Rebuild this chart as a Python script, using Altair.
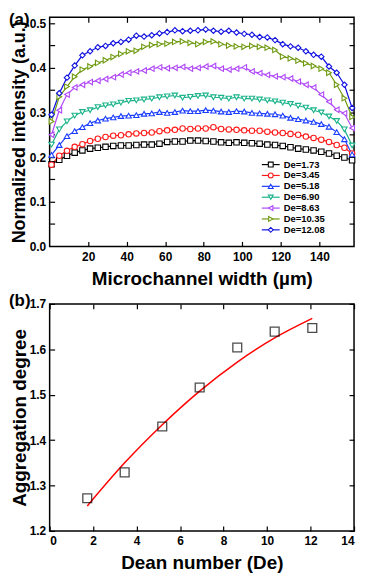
import altair as alt
import pandas as pd

LF = "Liberation Sans"

# ---------------- panel (a) data ----------------
x_um = [1, 5, 9, 13, 17, 21, 25, 29, 33, 37, 41, 45, 49, 53, 57, 61, 65, 69, 73, 77,
        81, 85, 89, 93, 97, 101, 105, 109, 113, 117, 121, 125, 129, 133, 137, 141, 145, 149, 153, 157]

names = ["De=1.73", "De=3.45", "De=5.18", "De=6.90", "De=8.63", "De=10.35", "De=12.08"]
colors = ["#000000", "#ff1a1a", "#1a3cff", "#1ab38a", "#b048f8", "#6f9a10", "#1010e0"]
shapes = ["square", "circle", "triangle-up", "triangle-down", "triangle-left", "triangle-right", "diamond"]

s_173 = [0.184, 0.194, 0.203, 0.210, 0.215, 0.219, 0.221, 0.223, 0.225, 0.226, 0.226, 0.227, 0.228, 0.228,
         0.230, 0.234, 0.235, 0.235, 0.237, 0.237, 0.236, 0.235, 0.233, 0.232, 0.233, 0.232, 0.231, 0.230,
         0.228, 0.227, 0.225, 0.222, 0.219, 0.217, 0.215, 0.212, 0.208, 0.203, 0.199, 0.193]
s_345 = [0.183, 0.203, 0.214, 0.223, 0.229, 0.236, 0.241, 0.245, 0.248, 0.249, 0.251, 0.253, 0.254, 0.255,
         0.258, 0.260, 0.261, 0.264, 0.263, 0.264, 0.264, 0.267, 0.263, 0.262, 0.261, 0.260, 0.259, 0.259,
         0.257, 0.255, 0.254, 0.252, 0.250, 0.246, 0.243, 0.239, 0.234, 0.227, 0.221, 0.208]
s_518 = [0.205, 0.227, 0.247, 0.258, 0.267, 0.276, 0.282, 0.286, 0.289, 0.292, 0.293, 0.294, 0.297, 0.298,
         0.301, 0.299, 0.301, 0.304, 0.303, 0.303, 0.305, 0.304, 0.302, 0.301, 0.303, 0.302, 0.299, 0.298,
         0.297, 0.296, 0.293, 0.288, 0.285, 0.282, 0.279, 0.274, 0.268, 0.256, 0.240, 0.206]
s_690 = [0.228, 0.262, 0.280, 0.293, 0.301, 0.305, 0.312, 0.316, 0.318, 0.322, 0.326, 0.327, 0.329, 0.331,
         0.334, 0.336, 0.338, 0.333, 0.335, 0.337, 0.338, 0.334, 0.333, 0.331, 0.334, 0.331, 0.331, 0.329,
         0.327, 0.325, 0.322, 0.319, 0.315, 0.311, 0.305, 0.300, 0.291, 0.281, 0.262, 0.226]
s_863 = [0.250, 0.305, 0.340, 0.356, 0.362, 0.368, 0.371, 0.375, 0.379, 0.385, 0.389, 0.392, 0.394, 0.398,
         0.401, 0.399, 0.400, 0.402, 0.398, 0.400, 0.403, 0.404, 0.398, 0.396, 0.398, 0.401, 0.392, 0.388,
         0.384, 0.381, 0.379, 0.376, 0.369, 0.362, 0.356, 0.340, 0.324, 0.306, 0.298, 0.265]
s_1035 = [0.280, 0.335, 0.358, 0.380, 0.396, 0.403, 0.411, 0.417, 0.424, 0.431, 0.437, 0.438, 0.447, 0.451,
          0.453, 0.454, 0.458, 0.459, 0.456, 0.453, 0.458, 0.459, 0.453, 0.450, 0.448, 0.447, 0.449, 0.447,
          0.445, 0.440, 0.425, 0.421, 0.416, 0.410, 0.404, 0.398, 0.389, 0.362, 0.332, 0.290]
s_1208 = [0.295, 0.343, 0.378, 0.405, 0.428, 0.437, 0.446, 0.449, 0.455, 0.458, 0.463, 0.472, 0.470, 0.473,
          0.477, 0.480, 0.484, 0.482, 0.483, 0.484, 0.486, 0.483, 0.481, 0.483, 0.479, 0.476, 0.474, 0.469,
          0.468, 0.462, 0.453, 0.448, 0.445, 0.437, 0.429, 0.425, 0.403, 0.389, 0.362, 0.310]
series = [s_173, s_345, s_518, s_690, s_863, s_1035, s_1208]

# ---------------- panel (b) data ----------------
de_values = [1.73, 3.45, 5.18, 6.90, 8.63, 10.35, 12.08]
agg_degree = [1.272, 1.329, 1.430, 1.516, 1.604, 1.639, 1.647]
fit_degree = [1.255, 1.350, 1.434, 1.508, 1.572, 1.625, 1.668]

x_ticks_a = [20, 40, 60, 80, 100, 120, 140]
y_labels_a = [0.0, 0.1, 0.2, 0.3, 0.4, 0.5]
y_ticks_a = [0.05, 0.1, 0.15, 0.2, 0.25, 0.3, 0.35, 0.4, 0.45, 0.5]
x_ticks_b = [0, 2, 4, 6, 8, 10, 12, 14]
y_ticks_b = [1.2, 1.3, 1.4, 1.5, 1.6, 1.7]

rows = []
for nm, vals in zip(names, series):
    for xv, yv in zip(x_um, vals):
        rows.append({"De": nm, "x": xv, "v": yv})
df_a = pd.DataFrame(rows)
df_leg = pd.DataFrame({"De": names})
df_b = pd.DataFrame({"de": de_values, "agg": agg_degree})
df_fit = pd.DataFrame({"de": de_values, "fit": fit_degree})

W = 307
HA = 231
HB = 229


def x_label_axis(values, title, flush):
    return alt.Axis(orient="bottom", values=values, format="d", title=title, ticks=False, domain=False,
                    grid=False, labelFont=LF, labelFontSize=12, labelFontWeight="bold", labelColor="black",
                    labelPadding=5, labelFlush=flush, labelOverlap=False,
                    titleFont=LF, titleFontSize=19, titleFontWeight="bold", titleColor="black",
                    titleBaseline="alphabetic", titleY=38)


def y_label_axis(values, title, title_size, title_pad):
    return alt.Axis(orient="left", values=values, format=".1f", title=title, ticks=False, domain=False,
                    grid=False, labelFont=LF, labelFontSize=12, labelFontWeight="bold", labelColor="black",
                    labelPadding=4, labelFlush=False, labelOverlap=False,
                    titleFont=LF, titleFontSize=title_size, titleFontWeight="bold", titleColor="black",
                    titlePadding=title_pad)


def tick_axis(orient, values, offset):
    return alt.Axis(orient=orient, values=values, labels=False, title=None, domain=False, grid=False,
                    ticks=True, tickSize=5, tickWidth=1.2, tickColor="black", offset=offset)


xs_a = alt.Scale(domain=[0, 158], nice=False, zero=False)
ys_a = alt.Scale(domain=[0, 0.513], nice=False, zero=False)
cscale = alt.Scale(domain=names, range=colors)
shscale = alt.Scale(domain=names, range=shapes)

lines_a = alt.Chart(df_a).mark_line(strokeWidth=1.2).encode(
    x=alt.X("x:Q", scale=xs_a, axis=x_label_axis(x_ticks_a, "Microchannel width (µm)", False)),
    y=alt.Y("v:Q", scale=ys_a, axis=y_label_axis(y_labels_a, "Normalized intensity (a.u.)", 18, 1)),
    color=alt.Color("De:N", scale=cscale, legend=None),
)

points_a = alt.Chart(df_a).mark_point(filled=False, fill="white", fillOpacity=1, size=30, strokeWidth=1.1).encode(
    x=alt.X("x:Q", scale=xs_a, axis=tick_axis("top", x_ticks_a, -HA)),
    y=alt.Y("v:Q", scale=ys_a, axis=tick_axis("right", y_ticks_a, -W)),
    color=alt.Color("De:N", scale=cscale, legend=None),
    shape=alt.Shape("De:N", scale=shscale, legend=None),
)

ghost_a = alt.Chart(df_a).mark_point(opacity=0).encode(
    x=alt.X("x:Q", scale=xs_a, axis=tick_axis("bottom", x_ticks_a, -HA)),
    y=alt.Y("v:Q", scale=ys_a, axis=tick_axis("left", y_ticks_a, -W)),
)

# legend inside the plot (lower right); rows placed by a point scale
leg_y = alt.Y("De:N", sort=names, scale=alt.Scale(domain=names, range=[143, 219.8], padding=0), axis=None)
leg_rule = alt.Chart(df_leg).mark_rule(strokeWidth=1.2).encode(
    x=alt.value(214), x2=alt.value(232), y=leg_y,
    color=alt.Color("De:N", scale=cscale, legend=None),
)
leg_pts = alt.Chart(df_leg).mark_point(filled=False, fill="white", fillOpacity=1, size=24, strokeWidth=1.1).encode(
    x=alt.value(223), y=leg_y,
    color=alt.Color("De:N", scale=cscale, legend=None),
    shape=alt.Shape("De:N", scale=shscale, legend=None),
)
leg_txt = alt.Chart(df_leg).mark_text(align="left", baseline="middle", font=LF, fontSize=9.5,
                                       fontWeight="bold", color="black").encode(
    x=alt.value(236), y=leg_y, text="De:N",
)
legend_a = alt.layer(leg_rule, leg_pts, leg_txt)

tag_a = alt.Chart(pd.DataFrame({"t": ["(a)"]})).mark_text(
    align="left", baseline="top", font=LF, fontSize=17, fontWeight="bold", color="black"
).encode(x=alt.value(-41), y=alt.value(-5), text="t:N")

chart_a = alt.layer(lines_a, points_a, ghost_a, legend_a, tag_a).resolve_scale(
    y="independent"
).resolve_axis(x="independent", y="independent").properties(width=W, height=HA)

xs_b = alt.Scale(domain=[0, 14], nice=False, zero=False)
ys_b = alt.Scale(domain=[1.2, 1.7], nice=False, zero=False)

pts_b = alt.Chart(df_b).mark_point(shape="square", filled=False, size=80, strokeWidth=1.3, color="black").encode(
    x=alt.X("de:Q", scale=xs_b, axis=x_label_axis(x_ticks_b, "Dean number (De)", True)),
    y=alt.Y("agg:Q", scale=ys_b, axis=y_label_axis(y_ticks_b, "Aggregation degree", 19, 0)),
)

fit_b = alt.Chart(df_fit).mark_line(color="#ff0000", strokeWidth=1.5, interpolate="monotone").encode(
    x=alt.X("de:Q", scale=xs_b, axis=tick_axis("top", x_ticks_b, -HB)),
    y=alt.Y("fit:Q", scale=ys_b, axis=tick_axis("right", y_ticks_b, -W)),
)

ghost_b = alt.Chart(df_b).mark_point(opacity=0).encode(
    x=alt.X("de:Q", scale=xs_b, axis=tick_axis("bottom", x_ticks_b, -HB)),
    y=alt.Y("agg:Q", scale=ys_b, axis=tick_axis("left", y_ticks_b, -W)),
)

tag_b = alt.Chart(pd.DataFrame({"t": ["(b)"]})).mark_text(
    align="left", baseline="top", font=LF, fontSize=17, fontWeight="bold", color="black"
).encode(x=alt.value(-41), y=alt.value(-11), text="t:N")

chart_b = alt.layer(fit_b, pts_b, ghost_b, tag_b).resolve_axis(
    x="independent", y="independent"
).properties(width=W, height=HB)

chart = alt.vconcat(chart_a, chart_b, spacing=2).properties(
    padding={"left": 0, "top": 0, "right": 0, "bottom": 0}
).configure_view(stroke="black", strokeWidth=1.5)

chart.save("out.html", embed_options={"renderer": "svg", "actions": False})
